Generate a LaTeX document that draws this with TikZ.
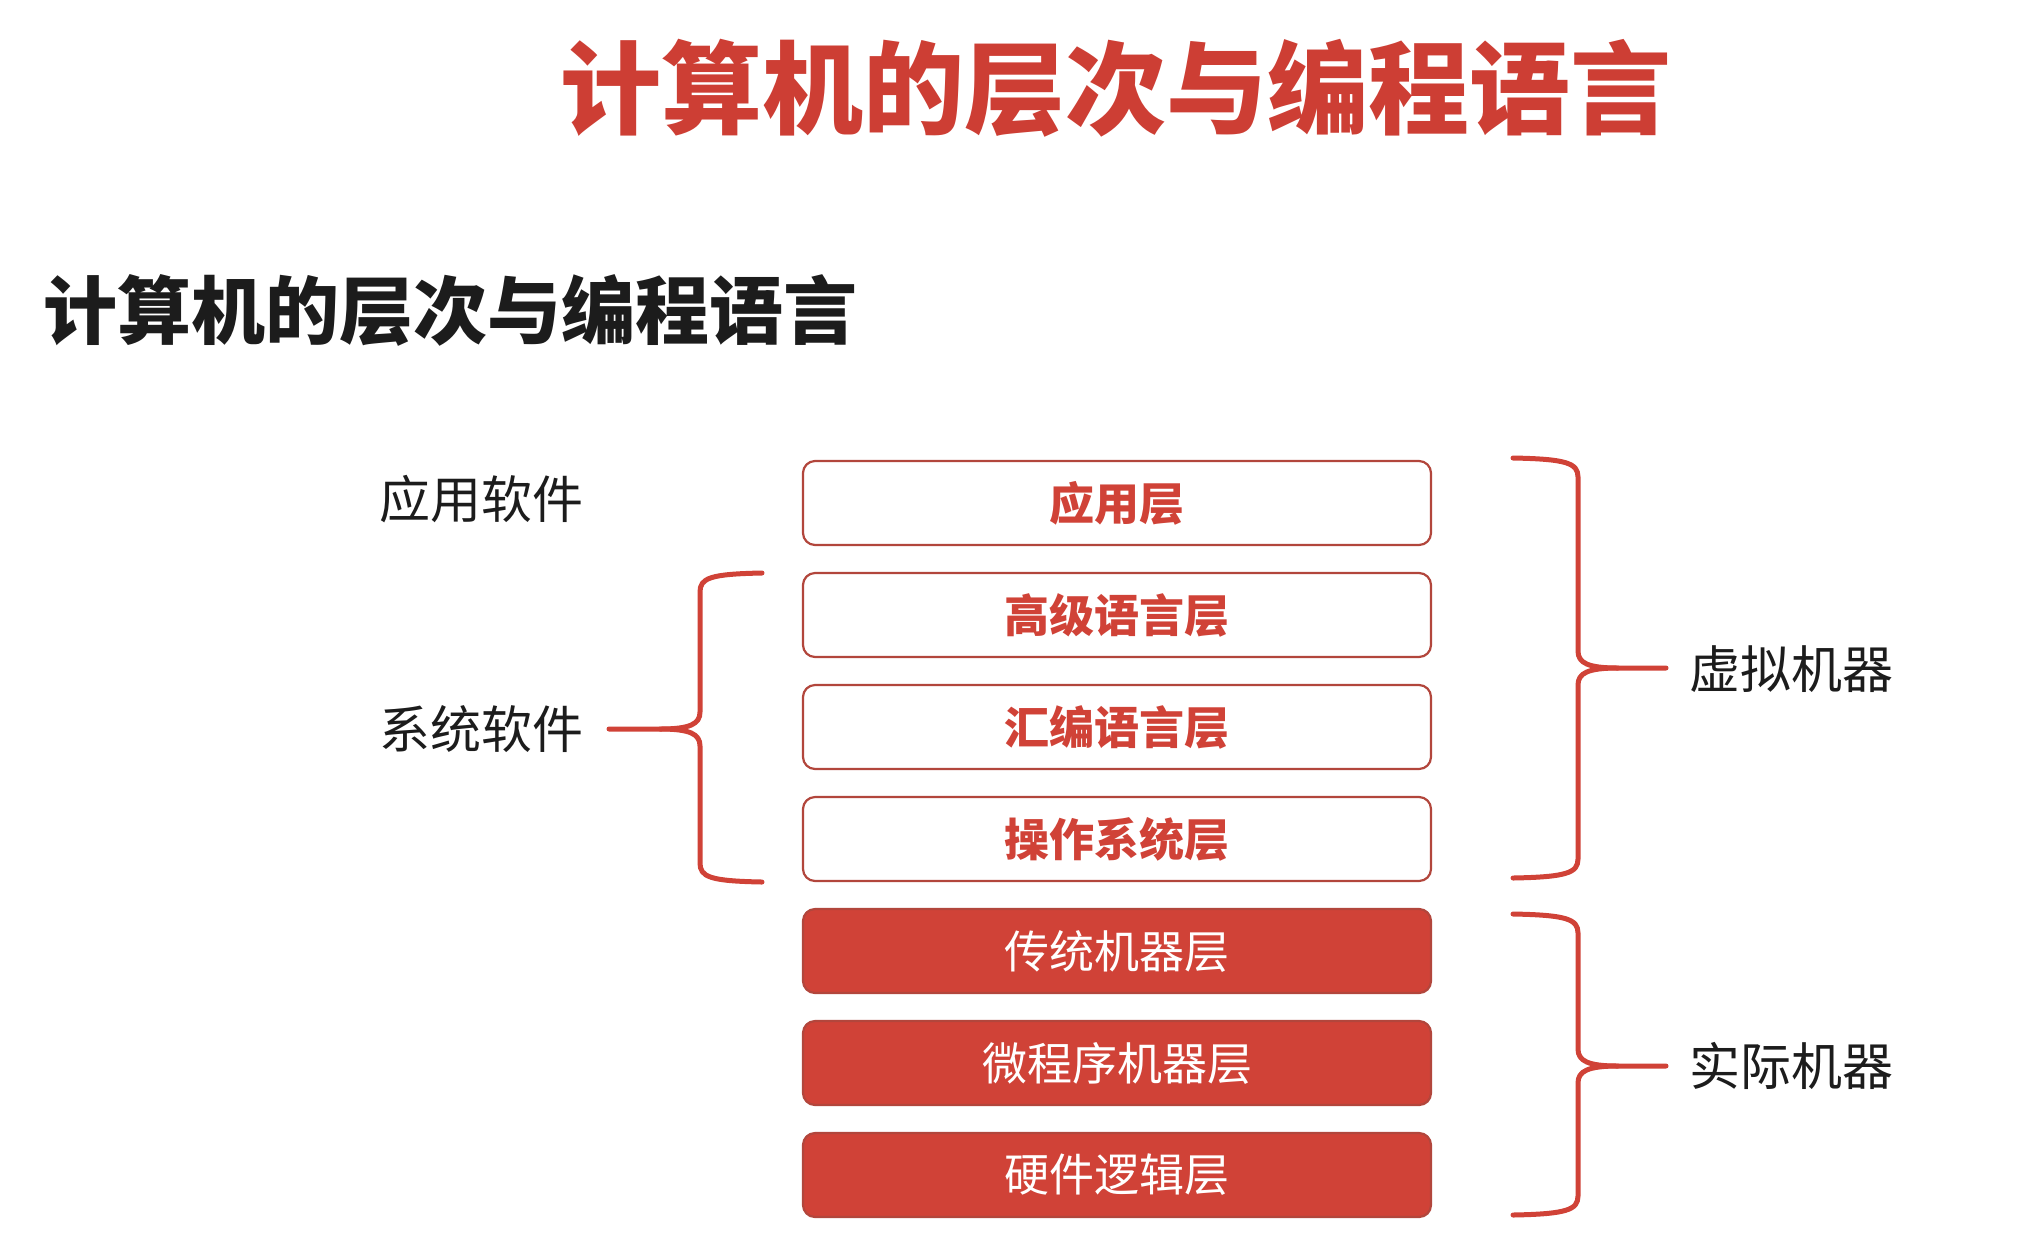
\documentclass[tikz,border=0pt]{standalone}
\usepackage{fontspec}
\setmainfont{Noto Sans CJK SC}
\definecolor{layerred}{RGB}{208,66,55}
\definecolor{edgered}{RGB}{178,70,60}
\definecolor{titlered}{RGB}{205,62,52}
\definecolor{inkgray}{RGB}{28,28,28}

\begin{document}
\begin{tikzpicture}[x=0.5pt,y=-0.5pt,line cap=round,line join=round,
  softbox/.style={draw=edgered,line width=1.1pt,fill=white,rounded corners=6pt,minimum width=314pt,minimum height=42pt,inner sep=0pt,text=layerred,font=\fontsize{22.5}{24}\selectfont\bfseries},
  hardbox/.style={draw=edgered,line width=1.1pt,fill=layerred,rounded corners=6pt,minimum width=314pt,minimum height=42pt,inner sep=0pt,text=white,font=\fontsize{22.5}{24}\selectfont},
  sidelabel/.style={inner sep=0pt,text=inkgray,font=\fontsize{25.5}{27}\selectfont},
  bracket/.style={draw=layerred,line width=2.5pt}]
\useasboundingbox (0,0) rectangle (2033,1239);
% headings
\node[inner sep=0pt,text=titlered,font=\fontsize{50.5}{52}\selectfont\bfseries] (title) at (1116,88) {计算机的层次与编程语言};
\node[anchor=west,inner sep=0pt,text=inkgray,font=\fontsize{37}{39}\selectfont\bfseries] (subtitle) at (43,310) {计算机的层次与编程语言};
% layers
\node[softbox] (app) at (1117,503) {应用层};
\node[softbox] (hll) at (1117,615) {高级语言层};
\node[softbox] (asm) at (1117,727) {汇编语言层};
\node[softbox] (os) at (1117,839) {操作系统层};
\node[hardbox] (conv) at (1117,951) {传统机器层};
\node[hardbox] (micro) at (1117,1063) {微程序机器层};
\node[hardbox] (logic) at (1117,1175) {硬件逻辑层};
% labels
\node[sidelabel] (appsw) at (481,499) {应用软件};
\node[sidelabel] (syssw) at (481,729) {系统软件};
\node[sidelabel] (virt) at (1791,669) {虚拟机器};
\node[sidelabel] (real) at (1791,1066) {实际机器};
% brace points
\coordinate (sysTip) at (609,729);
\coordinate (sysTop) at (762,573);
\coordinate (sysBot) at (762,882);
\coordinate (virtTip) at (1666,668);
\coordinate (virtTop) at (1513,458);
\coordinate (virtBot) at (1513,878);
\coordinate (realTip) at (1666,1066);
\coordinate (realTop) at (1513,914);
\coordinate (realBot) at (1513,1215);
% braces
\draw[bracket] (sysTop) .. controls (710,574) and (700,578) .. (700,592) -- (700,712) .. controls (700,724) and (690,729) .. (660,729) -- (sysTip);
\draw[bracket] (sysBot) .. controls (710,881) and (700,877) .. (700,863) -- (700,746) .. controls (700,734) and (690,729) .. (660,729);
\draw[bracket] (virtTop) .. controls (1566,459) and (1578,463) .. (1578,477) -- (1578,651) .. controls (1578,663) and (1588,668) .. (1618,668) -- (virtTip);
\draw[bracket] (virtBot) .. controls (1566,877) and (1578,873) .. (1578,859) -- (1578,685) .. controls (1578,673) and (1588,668) .. (1618,668);
\draw[bracket] (realTop) .. controls (1566,915) and (1578,919) .. (1578,933) -- (1578,1049) .. controls (1578,1061) and (1588,1066) .. (1618,1066) -- (realTip);
\draw[bracket] (realBot) .. controls (1566,1214) and (1578,1210) .. (1578,1196) -- (1578,1083) .. controls (1578,1071) and (1588,1066) .. (1618,1066);
\end{tikzpicture}
\end{document}
